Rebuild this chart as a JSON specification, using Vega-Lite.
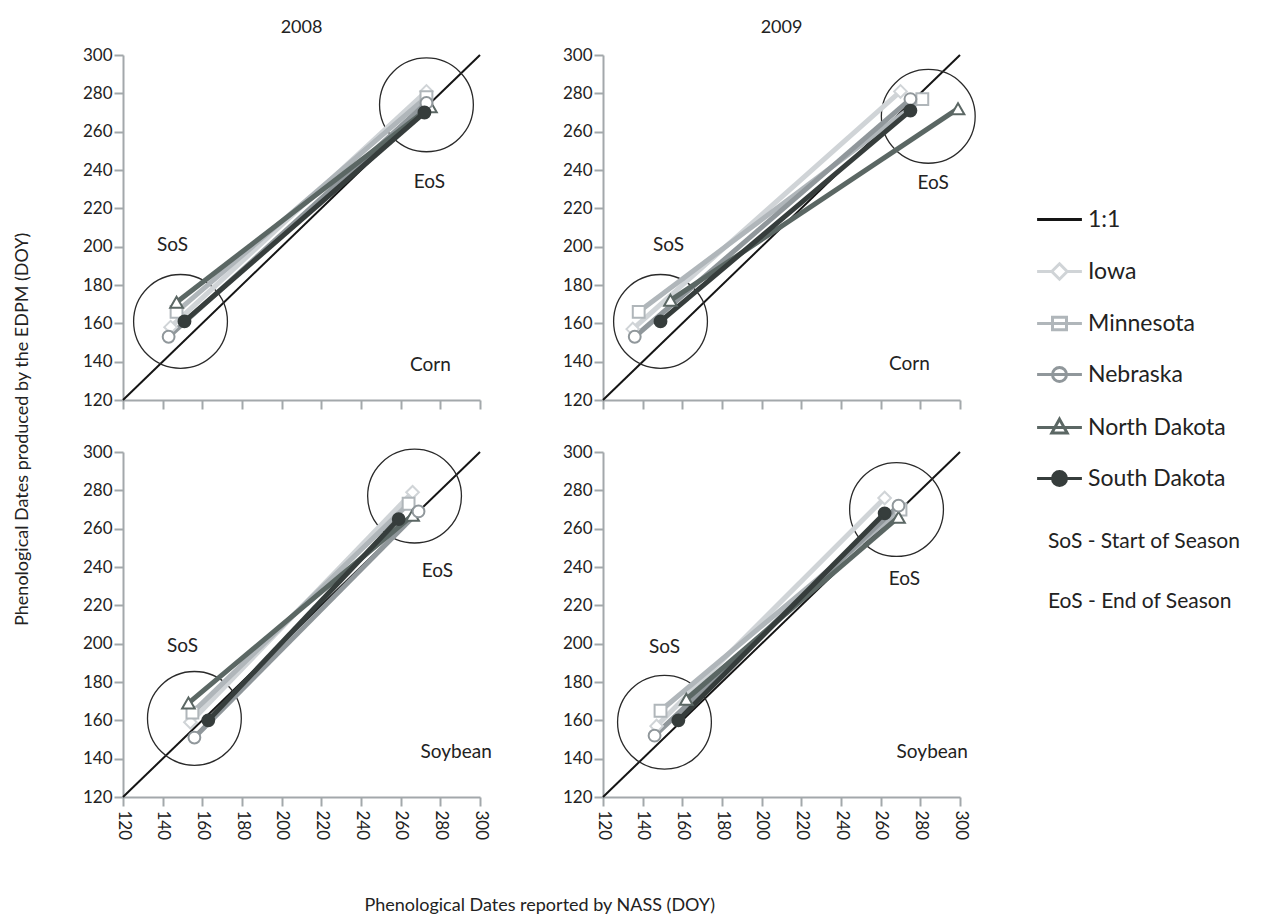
{
  "$schema": "https://vega.github.io/schema/vega-lite/v6.json",
  "background": "white",
  "padding": {"left": 14, "top": 19, "right": 0, "bottom": 0},
  "datasets": {
    "pts": [
      {"crop": "Corn", "year": 2008, "state": "Iowa", "phase": "SoS", "nass": 144, "edpm": 158},
      {"crop": "Corn", "year": 2008, "state": "Iowa", "phase": "EoS", "nass": 273, "edpm": 281},
      {"crop": "Corn", "year": 2008, "state": "Minnesota", "phase": "SoS", "nass": 147, "edpm": 166},
      {"crop": "Corn", "year": 2008, "state": "Minnesota", "phase": "EoS", "nass": 273, "edpm": 278},
      {"crop": "Corn", "year": 2008, "state": "Nebraska", "phase": "SoS", "nass": 143, "edpm": 153},
      {"crop": "Corn", "year": 2008, "state": "Nebraska", "phase": "EoS", "nass": 273, "edpm": 275},
      {"crop": "Corn", "year": 2008, "state": "North Dakota", "phase": "SoS", "nass": 147, "edpm": 171},
      {"crop": "Corn", "year": 2008, "state": "North Dakota", "phase": "EoS", "nass": 275, "edpm": 273},
      {"crop": "Corn", "year": 2008, "state": "South Dakota", "phase": "SoS", "nass": 151, "edpm": 161},
      {"crop": "Corn", "year": 2008, "state": "South Dakota", "phase": "EoS", "nass": 272, "edpm": 270},
      {"crop": "Corn", "year": 2009, "state": "Iowa", "phase": "SoS", "nass": 135, "edpm": 157},
      {"crop": "Corn", "year": 2009, "state": "Iowa", "phase": "EoS", "nass": 270, "edpm": 281},
      {"crop": "Corn", "year": 2009, "state": "Minnesota", "phase": "SoS", "nass": 138, "edpm": 166},
      {"crop": "Corn", "year": 2009, "state": "Minnesota", "phase": "EoS", "nass": 281, "edpm": 277},
      {"crop": "Corn", "year": 2009, "state": "Nebraska", "phase": "SoS", "nass": 136, "edpm": 153},
      {"crop": "Corn", "year": 2009, "state": "Nebraska", "phase": "EoS", "nass": 275, "edpm": 277},
      {"crop": "Corn", "year": 2009, "state": "North Dakota", "phase": "SoS", "nass": 154, "edpm": 172},
      {"crop": "Corn", "year": 2009, "state": "North Dakota", "phase": "EoS", "nass": 299, "edpm": 272},
      {"crop": "Corn", "year": 2009, "state": "South Dakota", "phase": "SoS", "nass": 149, "edpm": 161},
      {"crop": "Corn", "year": 2009, "state": "South Dakota", "phase": "EoS", "nass": 275, "edpm": 271},
      {"crop": "Soybean", "year": 2008, "state": "Iowa", "phase": "SoS", "nass": 154, "edpm": 159},
      {"crop": "Soybean", "year": 2008, "state": "Iowa", "phase": "EoS", "nass": 266, "edpm": 279},
      {"crop": "Soybean", "year": 2008, "state": "Minnesota", "phase": "SoS", "nass": 155, "edpm": 164},
      {"crop": "Soybean", "year": 2008, "state": "Minnesota", "phase": "EoS", "nass": 264, "edpm": 273},
      {"crop": "Soybean", "year": 2008, "state": "Nebraska", "phase": "SoS", "nass": 156, "edpm": 151},
      {"crop": "Soybean", "year": 2008, "state": "Nebraska", "phase": "EoS", "nass": 269, "edpm": 269},
      {"crop": "Soybean", "year": 2008, "state": "North Dakota", "phase": "SoS", "nass": 153, "edpm": 169},
      {"crop": "Soybean", "year": 2008, "state": "North Dakota", "phase": "EoS", "nass": 266, "edpm": 267},
      {"crop": "Soybean", "year": 2008, "state": "South Dakota", "phase": "SoS", "nass": 163, "edpm": 160},
      {"crop": "Soybean", "year": 2008, "state": "South Dakota", "phase": "EoS", "nass": 259, "edpm": 265},
      {"crop": "Soybean", "year": 2009, "state": "Iowa", "phase": "SoS", "nass": 147, "edpm": 157},
      {"crop": "Soybean", "year": 2009, "state": "Iowa", "phase": "EoS", "nass": 262, "edpm": 276},
      {"crop": "Soybean", "year": 2009, "state": "Minnesota", "phase": "SoS", "nass": 149, "edpm": 165},
      {"crop": "Soybean", "year": 2009, "state": "Minnesota", "phase": "EoS", "nass": 270, "edpm": 270},
      {"crop": "Soybean", "year": 2009, "state": "Nebraska", "phase": "SoS", "nass": 146, "edpm": 152},
      {"crop": "Soybean", "year": 2009, "state": "Nebraska", "phase": "EoS", "nass": 269, "edpm": 272},
      {"crop": "Soybean", "year": 2009, "state": "North Dakota", "phase": "SoS", "nass": 162, "edpm": 171},
      {"crop": "Soybean", "year": 2009, "state": "North Dakota", "phase": "EoS", "nass": 269, "edpm": 266},
      {"crop": "Soybean", "year": 2009, "state": "South Dakota", "phase": "SoS", "nass": 158, "edpm": 160},
      {"crop": "Soybean", "year": 2009, "state": "South Dakota", "phase": "EoS", "nass": 262, "edpm": 268}
    ],
    "circles": [
      {"crop": "Corn", "year": 2008, "phase": "SoS", "nass": 149, "edpm": 161},
      {"crop": "Corn", "year": 2008, "phase": "EoS", "nass": 273, "edpm": 274},
      {"crop": "Corn", "year": 2009, "phase": "SoS", "nass": 149, "edpm": 161},
      {"crop": "Corn", "year": 2009, "phase": "EoS", "nass": 284, "edpm": 268},
      {"crop": "Soybean", "year": 2008, "phase": "SoS", "nass": 156, "edpm": 161},
      {"crop": "Soybean", "year": 2008, "phase": "EoS", "nass": 267, "edpm": 277},
      {"crop": "Soybean", "year": 2009, "phase": "SoS", "nass": 151, "edpm": 159},
      {"crop": "Soybean", "year": 2009, "phase": "EoS", "nass": 268, "edpm": 270}
    ],
    "notes": [
      {"crop": "Corn", "year": 2008, "label": "SoS", "nass": 145, "edpm": 201},
      {"crop": "Corn", "year": 2008, "label": "EoS", "nass": 274.5, "edpm": 234},
      {"crop": "Corn", "year": 2008, "label": "Corn", "nass": 275, "edpm": 138.5},
      {"crop": "Corn", "year": 2009, "label": "SoS", "nass": 153, "edpm": 201},
      {"crop": "Corn", "year": 2009, "label": "EoS", "nass": 286.5, "edpm": 233},
      {"crop": "Corn", "year": 2009, "label": "Corn", "nass": 274.5, "edpm": 139},
      {"crop": "Soybean", "year": 2008, "label": "SoS", "nass": 150, "edpm": 199},
      {"crop": "Soybean", "year": 2008, "label": "EoS", "nass": 278.5, "edpm": 238},
      {"crop": "Soybean", "year": 2008, "label": "Soybean", "nass": 288, "edpm": 143.5},
      {"crop": "Soybean", "year": 2009, "label": "SoS", "nass": 151, "edpm": 198.5},
      {"crop": "Soybean", "year": 2009, "label": "EoS", "nass": 272, "edpm": 234},
      {"crop": "Soybean", "year": 2009, "label": "Soybean", "nass": 286, "edpm": 143.5}
    ],
    "diag": [
      {"nass": 120, "edpm": 120, "nass_end": 300, "edpm_end": 300}
    ]
  },
  "title": {
    "text": "Phenological Dates reported by NASS (DOY)",
    "orient": "bottom",
    "anchor": "middle",
    "offset": 57,
    "dx": -88
  },
  "vconcat": [
    {
      "title": {
        "text": "Phenological Dates produced by the EDPM (DOY)",
        "orient": "left",
        "anchor": "middle",
        "offset": 50
      },
      "columns": 2,
      "spacing": {"row": 33, "column": 70},
      "concat": [
        {
          "width": 357,
          "height": 345,
          "title": {"text": "2008", "offset": 9},
          "encoding": {
            "x": {"field": "nass", "type": "quantitative", "title": null,
                  "scale": {"domain": [120, 300], "nice": false, "zero": false},
                  "axis": {"values": [120, 140, 160, 180, 200, 220, 240, 260, 280, 300], "labels": false}},
            "y": {"field": "edpm", "type": "quantitative", "title": null,
                  "scale": {"domain": [120, 300], "nice": false, "zero": false},
                  "axis": {"values": [120, 140, 160, 180, 200, 220, 240, 260, 280, 300]}}
          },
          "layer": [
            {"data": {"name": "diag"}, "mark": {"type": "rule", "color": "#151515", "strokeWidth": 2},
             "encoding": {"x2": {"field": "nass_end"}, "y2": {"field": "edpm_end"}}},
            {"data": {"name": "circles"}, "transform": [{"filter": "datum.crop === 'Corn' && datum.year === 2008"}],
             "mark": {"type": "point", "shape": "circle", "size": 8800, "filled": false, "stroke": "#2a2a2a", "strokeWidth": 1.3, "opacity": 1}},
            {"data": {"name": "pts"}, "transform": [{"filter": "datum.crop === 'Corn' && datum.year === 2008"}],
             "mark": {"type": "line", "strokeWidth": 5},
             "encoding": {"stroke": {"field": "state", "type": "nominal",
                           "scale": {"domain": ["1:1", "Iowa", "Minnesota", "Nebraska", "North Dakota", "South Dakota"], "range": ["#151515", "#d0d4d7", "#b0b6ba", "#90979b", "#5b6764", "#363d3c"]}}}},
            {"data": {"name": "pts"}, "transform": [{"filter": "datum.crop === 'Corn' && datum.year === 2008 && datum.state === 'Iowa'"}],
             "mark": {"type": "point", "shape": "diamond", "size": 160, "strokeWidth": 2, "filled": true, "opacity": 1},
             "encoding": {"stroke": {"field": "state", "type": "nominal"}, "fill": {"field": "state", "type": "nominal",
                           "scale": {"domain": ["1:1", "Iowa", "Minnesota", "Nebraska", "North Dakota", "South Dakota"], "range": ["#ffffff", "#ffffff", "#ffffff", "#ffffff", "#ffffff", "#363d3c"]}}}},
            {"data": {"name": "pts"}, "transform": [{"filter": "datum.crop === 'Corn' && datum.year === 2008 && datum.state === 'Minnesota'"}],
             "mark": {"type": "point", "shape": "square", "size": 140, "strokeWidth": 2, "filled": true, "opacity": 1},
             "encoding": {"stroke": {"field": "state", "type": "nominal"}, "fill": {"field": "state", "type": "nominal"}}},
            {"data": {"name": "pts"}, "transform": [{"filter": "datum.crop === 'Corn' && datum.year === 2008 && datum.state === 'North Dakota'"}],
             "mark": {"type": "point", "shape": "triangle-up", "size": 160, "strokeWidth": 2, "filled": true, "opacity": 1},
             "encoding": {"stroke": {"field": "state", "type": "nominal"}, "fill": {"field": "state", "type": "nominal"}}},
            {"data": {"name": "pts"}, "transform": [{"filter": "datum.crop === 'Corn' && datum.year === 2008 && (datum.state === 'Nebraska' || datum.state === 'South Dakota')"}],
             "mark": {"type": "point", "shape": "circle", "size": 140, "strokeWidth": 2, "filled": true, "opacity": 1},
             "encoding": {"stroke": {"field": "state", "type": "nominal"}, "fill": {"field": "state", "type": "nominal"}}},
            {"data": {"name": "notes"}, "transform": [{"filter": "datum.crop === 'Corn' && datum.year === 2008"}],
             "mark": {"type": "text", "fontSize": 19, "color": "#222222"},
             "encoding": {"text": {"field": "label"}}},
            {"data": {"name": "pts"}, "transform": [{"filter": "datum.crop === 'Corn' && datum.year === 2008"}],
             "mark": {"type": "point", "filled": true, "opacity": 0, "size": 196, "strokeWidth": 3},
             "encoding": {
               "shape": {"field": "state", "type": "nominal",
                 "scale": {"domain": ["1:1", "Iowa", "Minnesota", "Nebraska", "North Dakota", "South Dakota"],
                           "range": ["M-3.2,0H3.2",
                                     "M-3.2,0H-1.1M1.1,0H3.2M0,-1.1L1.1,0L0,1.1L-1.1,0Z",
                                     "M-3.2,0H3.2M-1,-0.9H1V0.9H-1Z",
                                     "M-3.2,0H3.2M1,0A1,1,0,1,1,-1,0A1,1,0,1,1,1,0Z",
                                     "M-3.2,0H3.2M0,-1.2L1.1,0.8L-1.1,0.8Z",
                                     "M-3.2,0H3.2M1,0A1,1,0,1,1,-1,0A1,1,0,1,1,1,0Z"]},
                 "legend": {"orient": "none", "legendX": 925, "legendY": 153,
                            "title": ["SoS - Start of Season", "EoS - End of Season"]}},
               "stroke": {"field": "state", "type": "nominal"},
               "fill": {"field": "state", "type": "nominal"}
             }}
          ]
        },
        {
          "width": 357,
          "height": 345,
          "title": {"text": "2009", "offset": 9},
          "encoding": {
            "x": {"field": "nass", "type": "quantitative", "title": null,
                  "scale": {"domain": [120, 300], "nice": false, "zero": false},
                  "axis": {"values": [120, 140, 160, 180, 200, 220, 240, 260, 280, 300], "labels": false}},
            "y": {"field": "edpm", "type": "quantitative", "title": null,
                  "scale": {"domain": [120, 300], "nice": false, "zero": false},
                  "axis": {"values": [120, 140, 160, 180, 200, 220, 240, 260, 280, 300]}}
          },
          "layer": [
            {"data": {"name": "diag"}, "mark": {"type": "rule", "color": "#151515", "strokeWidth": 2},
             "encoding": {"x2": {"field": "nass_end"}, "y2": {"field": "edpm_end"}}},
            {"data": {"name": "circles"}, "transform": [{"filter": "datum.crop === 'Corn' && datum.year === 2009"}],
             "mark": {"type": "point", "shape": "circle", "size": 8800, "filled": false, "stroke": "#2a2a2a", "strokeWidth": 1.3, "opacity": 1}},
            {"data": {"name": "pts"}, "transform": [{"filter": "datum.crop === 'Corn' && datum.year === 2009"}],
             "mark": {"type": "line", "strokeWidth": 5},
             "encoding": {"stroke": {"field": "state", "type": "nominal"}}},
            {"data": {"name": "pts"}, "transform": [{"filter": "datum.crop === 'Corn' && datum.year === 2009 && datum.state === 'Iowa'"}],
             "mark": {"type": "point", "shape": "diamond", "size": 160, "strokeWidth": 2, "filled": true, "opacity": 1},
             "encoding": {"stroke": {"field": "state", "type": "nominal"}, "fill": {"field": "state", "type": "nominal"}}},
            {"data": {"name": "pts"}, "transform": [{"filter": "datum.crop === 'Corn' && datum.year === 2009 && datum.state === 'Minnesota'"}],
             "mark": {"type": "point", "shape": "square", "size": 140, "strokeWidth": 2, "filled": true, "opacity": 1},
             "encoding": {"stroke": {"field": "state", "type": "nominal"}, "fill": {"field": "state", "type": "nominal"}}},
            {"data": {"name": "pts"}, "transform": [{"filter": "datum.crop === 'Corn' && datum.year === 2009 && datum.state === 'North Dakota'"}],
             "mark": {"type": "point", "shape": "triangle-up", "size": 160, "strokeWidth": 2, "filled": true, "opacity": 1},
             "encoding": {"stroke": {"field": "state", "type": "nominal"}, "fill": {"field": "state", "type": "nominal"}}},
            {"data": {"name": "pts"}, "transform": [{"filter": "datum.crop === 'Corn' && datum.year === 2009 && (datum.state === 'Nebraska' || datum.state === 'South Dakota')"}],
             "mark": {"type": "point", "shape": "circle", "size": 140, "strokeWidth": 2, "filled": true, "opacity": 1},
             "encoding": {"stroke": {"field": "state", "type": "nominal"}, "fill": {"field": "state", "type": "nominal"}}},
            {"data": {"name": "notes"}, "transform": [{"filter": "datum.crop === 'Corn' && datum.year === 2009"}],
             "mark": {"type": "text", "fontSize": 19, "color": "#222222"},
             "encoding": {"text": {"field": "label"}}}
          ]
        },
        {
          "width": 357,
          "height": 345,
          "encoding": {
            "x": {"field": "nass", "type": "quantitative", "title": null,
                  "scale": {"domain": [120, 300], "nice": false, "zero": false},
                  "axis": {"values": [120, 140, 160, 180, 200, 220, 240, 260, 280, 300], "labelAngle": 90, "labelPadding": 4}},
            "y": {"field": "edpm", "type": "quantitative", "title": null,
                  "scale": {"domain": [120, 300], "nice": false, "zero": false},
                  "axis": {"values": [120, 140, 160, 180, 200, 220, 240, 260, 280, 300]}}
          },
          "layer": [
            {"data": {"name": "diag"}, "mark": {"type": "rule", "color": "#151515", "strokeWidth": 2},
             "encoding": {"x2": {"field": "nass_end"}, "y2": {"field": "edpm_end"}}},
            {"data": {"name": "circles"}, "transform": [{"filter": "datum.crop === 'Soybean' && datum.year === 2008"}],
             "mark": {"type": "point", "shape": "circle", "size": 8800, "filled": false, "stroke": "#2a2a2a", "strokeWidth": 1.3, "opacity": 1}},
            {"data": {"name": "pts"}, "transform": [{"filter": "datum.crop === 'Soybean' && datum.year === 2008"}],
             "mark": {"type": "line", "strokeWidth": 5},
             "encoding": {"stroke": {"field": "state", "type": "nominal"}}},
            {"data": {"name": "pts"}, "transform": [{"filter": "datum.crop === 'Soybean' && datum.year === 2008 && datum.state === 'Iowa'"}],
             "mark": {"type": "point", "shape": "diamond", "size": 160, "strokeWidth": 2, "filled": true, "opacity": 1},
             "encoding": {"stroke": {"field": "state", "type": "nominal"}, "fill": {"field": "state", "type": "nominal"}}},
            {"data": {"name": "pts"}, "transform": [{"filter": "datum.crop === 'Soybean' && datum.year === 2008 && datum.state === 'Minnesota'"}],
             "mark": {"type": "point", "shape": "square", "size": 140, "strokeWidth": 2, "filled": true, "opacity": 1},
             "encoding": {"stroke": {"field": "state", "type": "nominal"}, "fill": {"field": "state", "type": "nominal"}}},
            {"data": {"name": "pts"}, "transform": [{"filter": "datum.crop === 'Soybean' && datum.year === 2008 && datum.state === 'North Dakota'"}],
             "mark": {"type": "point", "shape": "triangle-up", "size": 160, "strokeWidth": 2, "filled": true, "opacity": 1},
             "encoding": {"stroke": {"field": "state", "type": "nominal"}, "fill": {"field": "state", "type": "nominal"}}},
            {"data": {"name": "pts"}, "transform": [{"filter": "datum.crop === 'Soybean' && datum.year === 2008 && (datum.state === 'Nebraska' || datum.state === 'South Dakota')"}],
             "mark": {"type": "point", "shape": "circle", "size": 140, "strokeWidth": 2, "filled": true, "opacity": 1},
             "encoding": {"stroke": {"field": "state", "type": "nominal"}, "fill": {"field": "state", "type": "nominal"}}},
            {"data": {"name": "notes"}, "transform": [{"filter": "datum.crop === 'Soybean' && datum.year === 2008"}],
             "mark": {"type": "text", "fontSize": 19, "color": "#222222"},
             "encoding": {"text": {"field": "label"}}}
          ]
        },
        {
          "width": 357,
          "height": 345,
          "encoding": {
            "x": {"field": "nass", "type": "quantitative", "title": null,
                  "scale": {"domain": [120, 300], "nice": false, "zero": false},
                  "axis": {"values": [120, 140, 160, 180, 200, 220, 240, 260, 280, 300], "labelAngle": 90, "labelPadding": 4}},
            "y": {"field": "edpm", "type": "quantitative", "title": null,
                  "scale": {"domain": [120, 300], "nice": false, "zero": false},
                  "axis": {"values": [120, 140, 160, 180, 200, 220, 240, 260, 280, 300]}}
          },
          "layer": [
            {"data": {"name": "diag"}, "mark": {"type": "rule", "color": "#151515", "strokeWidth": 2},
             "encoding": {"x2": {"field": "nass_end"}, "y2": {"field": "edpm_end"}}},
            {"data": {"name": "circles"}, "transform": [{"filter": "datum.crop === 'Soybean' && datum.year === 2009"}],
             "mark": {"type": "point", "shape": "circle", "size": 8800, "filled": false, "stroke": "#2a2a2a", "strokeWidth": 1.3, "opacity": 1}},
            {"data": {"name": "pts"}, "transform": [{"filter": "datum.crop === 'Soybean' && datum.year === 2009"}],
             "mark": {"type": "line", "strokeWidth": 5},
             "encoding": {"stroke": {"field": "state", "type": "nominal"}}},
            {"data": {"name": "pts"}, "transform": [{"filter": "datum.crop === 'Soybean' && datum.year === 2009 && datum.state === 'Iowa'"}],
             "mark": {"type": "point", "shape": "diamond", "size": 160, "strokeWidth": 2, "filled": true, "opacity": 1},
             "encoding": {"stroke": {"field": "state", "type": "nominal"}, "fill": {"field": "state", "type": "nominal"}}},
            {"data": {"name": "pts"}, "transform": [{"filter": "datum.crop === 'Soybean' && datum.year === 2009 && datum.state === 'Minnesota'"}],
             "mark": {"type": "point", "shape": "square", "size": 140, "strokeWidth": 2, "filled": true, "opacity": 1},
             "encoding": {"stroke": {"field": "state", "type": "nominal"}, "fill": {"field": "state", "type": "nominal"}}},
            {"data": {"name": "pts"}, "transform": [{"filter": "datum.crop === 'Soybean' && datum.year === 2009 && datum.state === 'North Dakota'"}],
             "mark": {"type": "point", "shape": "triangle-up", "size": 160, "strokeWidth": 2, "filled": true, "opacity": 1},
             "encoding": {"stroke": {"field": "state", "type": "nominal"}, "fill": {"field": "state", "type": "nominal"}}},
            {"data": {"name": "pts"}, "transform": [{"filter": "datum.crop === 'Soybean' && datum.year === 2009 && (datum.state === 'Nebraska' || datum.state === 'South Dakota')"}],
             "mark": {"type": "point", "shape": "circle", "size": 140, "strokeWidth": 2, "filled": true, "opacity": 1},
             "encoding": {"stroke": {"field": "state", "type": "nominal"}, "fill": {"field": "state", "type": "nominal"}}},
            {"data": {"name": "notes"}, "transform": [{"filter": "datum.crop === 'Soybean' && datum.year === 2009"}],
             "mark": {"type": "text", "fontSize": 19, "color": "#222222"},
             "encoding": {"text": {"field": "label"}}}
          ]
        }
      ]
    }
  ],
  "config": {
    "font": "Lato",
    "view": {"stroke": null},
    "axis": {
      "grid": false,
      "domainColor": "#a3a8ab",
      "domainWidth": 2,
      "tickColor": "#a3a8ab",
      "tickWidth": 2,
      "tickSize": 9,
      "labelFont": "Lato",
      "labelFontSize": 17,
      "labelColor": "#222222"
    },
    "legend": {
      "orient": "none",
      "padding": 0,
      "titleOrient": "bottom",
      "titleAnchor": "start",
      "titleFont": "Lato",
      "titleFontSize": 21,
      "titleFontWeight": "normal",
      "titleColor": "#222222",
      "titleLineHeight": 60,
      "titlePadding": 39,
      "titleLimit": 400,
      "labelFont": "Lato",
      "labelFontSize": 23,
      "labelColor": "#222222",
      "labelOffset": 17,
      "labelLimit": 400,
      "symbolSize": 196,
      "symbolStrokeWidth": 3,
      "symbolOpacity": 1,
      "rowPadding": 25
    },
    "title": {"font": "Lato", "fontSize": 18, "fontWeight": "normal", "color": "#222222"},
    "text": {"font": "Lato"}
  }
}
